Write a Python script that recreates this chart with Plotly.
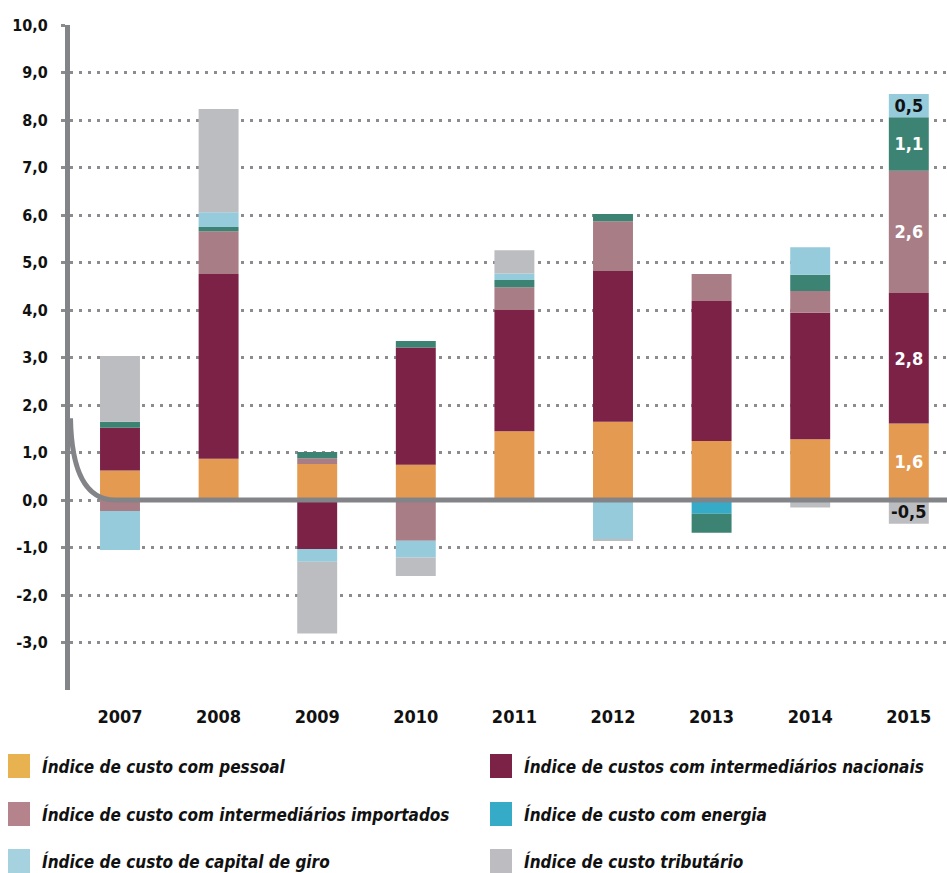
import plotly.graph_objects as go

years = ["2007", "2008", "2009", "2010", "2011", "2012", "2013", "2014", "2015"]

pessoal     = [0.62, 0.87, 0.76, 0.74, 1.45, 1.65, 1.24, 1.28, 1.61]
nacionais   = [0.90, 3.89, -1.03, 2.47, 2.55, 3.17, 2.95, 2.66, 2.75]
importados  = [-0.23, 0.90, 0.12, -0.86, 0.48, 1.05, 0.57, 0.46, 2.57]
energia_b   = [0.0, 0.0, 0.0, 0.0, 0.0, 0.0, -0.29, 0.0, 0.0]
energia     = [0.13, 0.09, 0.13, 0.14, 0.15, 0.15, -0.40, 0.34, 1.13]
giro        = [-0.82, 0.31, -0.27, -0.35, 0.14, -0.83, 0.0, 0.58, 0.49]
tributario  = [1.38, 2.17, -1.51, -0.39, 0.49, -0.03, 0.0, -0.16, -0.50]

label_2015 = {"pessoal": "1,6", "nacionais": "2,8", "importados": "2,6",
              "energia": "1,1", "giro": "0,5", "tributario": "-0,5"}

ytick_vals = list(range(-3, 11))
ytick_text = [f"{v},0" for v in ytick_vals]

FONT = "DejaVu Sans Condensed, DejaVu Sans, sans-serif"

series = [
    ("Índice de custo com pessoal", pessoal, "#E49A50", "pessoal", "white"),
    ("Índice de custos com intermediários nacionais", nacionais, "#7B2246", "nacionais", "white"),
    ("Índice de custo com intermediários importados", importados, "#A97D85", "importados", "white"),
    ("Índice de custo com energia (b)", energia_b, "#35ABC7", None, "white"),
    ("Índice de custo com energia", energia, "#3D8373", "energia", "white"),
    ("Índice de custo de capital de giro", giro, "#95CBDB", "giro", "#111111"),
    ("Índice de custo tributário", tributario, "#BCBDC1", "tributario", "#111111"),
]

xs = list(range(len(years)))
fig = go.Figure()
for name, vals, color, key, tcolor in series:
    texts = [""] * len(years)
    if key is not None:
        texts[-1] = label_2015[key]
    fig.add_trace(go.Bar(
        x=xs, y=vals, name=name, marker=dict(color=color, line=dict(width=0)),
        width=0.405, text=texts, textposition="inside", insidetextanchor="middle",
        textangle=0, textfont=dict(family=FONT, size=18, color=tcolor, weight="bold"),
        showlegend=False, hoverinfo="skip",
    ))

AX = "#838488"
W, H = 947, 873
ML, MR, MT, MB = 70, 0, 25, 183
PW, PH = W - ML - MR, H - MT - MB
UNIT = 98.6
X0 = -(120 - ML) / UNIT
X1 = X0 + PW / UNIT

def px2paper_x(px):
    return (px - ML) / PW

def px2paper_y(py):
    return (H - MB - py) / PH

shapes = [
    dict(type="path", xref="x", yref="y", layer="above",
         path=f"M {X0 + 0.005:.3f},1.72 Q {X0 + 0.02:.3f},0.0 -0.05,0.0 L 8.45,0.0",
         line=dict(color=AX, width=5)),
]
annotations = []

legend_items = [
    ("Índice de custo com pessoal", "#E9B251", 8, 766),
    ("Índice de custos com intermediários nacionais", "#7B2246", 490, 766),
    ("Índice de custo com intermediários importados", "#B5838C", 8, 814),
    ("Índice de custo com energia", "#35ABC7", 490, 814),
    ("Índice de custo de capital de giro", "#A6D1DF", 8, 861),
    ("Índice de custo tributário", "#BDBDC1", 490, 861),
]
for text, color, x0, yc in legend_items:
    shapes.append(dict(type="rect", xref="paper", yref="paper", layer="above",
                       x0=px2paper_x(x0), x1=px2paper_x(x0 + 22),
                       y0=px2paper_y(yc - 12), y1=px2paper_y(yc + 12),
                       fillcolor=color, line=dict(width=0)))
    annotations.append(dict(xref="paper", yref="paper", x=px2paper_x(x0 + 32),
                            y=px2paper_y(yc), xanchor="left", yanchor="middle",
                            showarrow=False, text=f"<b><i>{text}</i></b>",
                            font=dict(family=FONT, size=17, color="#111111")))

fig.update_layout(
    width=W, height=H, barmode="relative",
    margin=dict(l=ML, r=MR, t=MT, b=MB),
    paper_bgcolor="white", plot_bgcolor="white",
    font=dict(family=FONT, color="#111111"),
    uniformtext=dict(minsize=18, mode="show"),
    shapes=shapes, annotations=annotations,
    xaxis=dict(range=[X0, X1], tickvals=xs, ticktext=[f"<b>{y}</b>" for y in years],
               showgrid=False, zeroline=False, showline=False, ticks="",
               tickfont=dict(family=FONT, size=18, color="#111111"), ticklabelstandoff=14),
    yaxis=dict(range=[-4, 10], tickvals=ytick_vals, ticktext=[f"<b>{t}</b>" for t in ytick_text],
               showgrid=True, gridcolor="#8C8C90", gridwidth=3, griddash="3px,6px",
               zeroline=False, showline=True, linecolor=AX, linewidth=5,
               ticks="outside", ticklen=4, tickwidth=3, tickcolor="#8C8C90",
               tickfont=dict(family=FONT, size=16, color="#111111"), ticklabelstandoff=10),
)

fig.write_html("out.html", config={"displayModeBar": False},
               post_script="document.body.style.margin='0';document.body.style.overflow='hidden';")
